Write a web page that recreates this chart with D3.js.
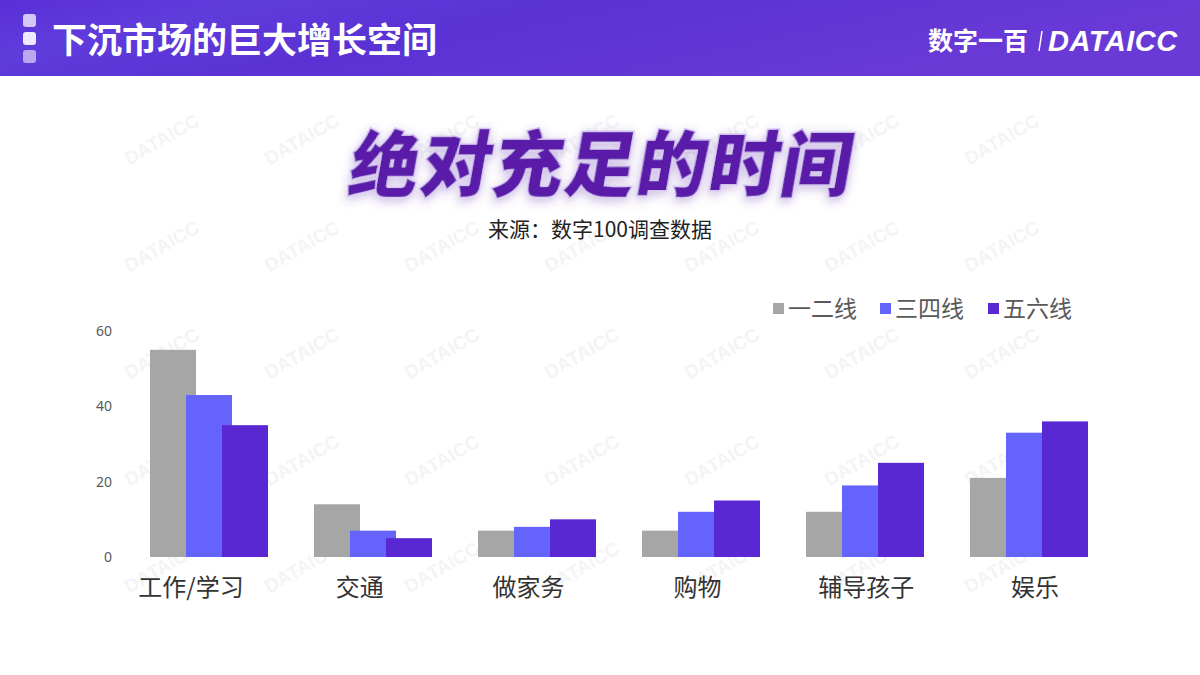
<!DOCTYPE html>
<html><head><meta charset="utf-8">
<script src="https://cdn.jsdelivr.net/npm/d3@7"></script>
<style>
html,body{margin:0;padding:0;background:#fff;}
svg{display:block;font-family:"Noto Sans CJK SC","Noto Sans",sans-serif;}
</style></head>
<body>
<svg id="chart" width="1200" height="675"></svg>
<script>
const categories = ["工作/学习","交通","做家务","购物","辅导孩子","娱乐"];
const seriesNames = ["一二线","三四线","五六线"];
const tier12 = [55, 14, 7, 7, 12, 21];
const tier34 = [43, 7, 8, 12, 19, 33];
const tier56 = [35, 5, 10, 15, 25, 36];
const yTicks = [0, 20, 40, 60];
const colors = ["#a6a6a6", "#6464fc", "#5a28d2"];

const svg = d3.select("#chart");
const defs = svg.append("defs");

// header gradient
const hg = defs.append("linearGradient").attr("id","hg").attr("x1","0").attr("y1","0").attr("x2","1").attr("y2","0.3");
hg.append("stop").attr("offset","0").attr("stop-color","#5a2fd6");
hg.append("stop").attr("offset","0.2").attr("stop-color","#5f3cdc");
hg.append("stop").attr("offset","0.45").attr("stop-color","#5a32d4");
hg.append("stop").attr("offset","1").attr("stop-color","#6a3ad6");
svg.append("rect").attr("x",0).attr("y",0).attr("width",1200).attr("height",76).attr("fill","url(#hg)");

// faint watermark
const wm = svg.append("g").attr("fill","#f4f4f6").attr("font-size",19).attr("font-weight",700).attr("font-family","Liberation Sans, sans-serif");
for (let r = 0; r < 5; r++) {
  for (let c = 1; c < 8; c++) {
    const x = c * 140 + 25;
    const y = 145 + r * 107;
    wm.append("text").attr("transform", `translate(${x},${y}) rotate(-30)`).attr("text-anchor","middle").text("DATAICC");
  }
}

// header icon
const iconCols = ["#d2c8f5","#efeaff","#b9a8f0"];
[14, 32, 50].forEach((y,i) => {
  svg.append("rect").attr("x",23).attr("y",y).attr("width",13).attr("height",13).attr("rx",3).attr("fill",iconCols[i]);
});
svg.append("text").attr("x",52).attr("y",53).attr("fill","#fff").attr("font-size",35).attr("font-weight",700)
  .text("下沉市场的巨大增长空间");

// logo
svg.append("text").attr("x",928).attr("y",50).attr("fill","#fff").attr("font-size",25).attr("font-weight",700).text("数字一百");
svg.append("line").attr("x1",1042).attr("x2",1039).attr("y1",31).attr("y2",51).attr("stroke","#fff").attr("stroke-width",1.5);
svg.append("text").attr("x",1048).attr("y",51).attr("fill","#fff").attr("font-size",29).attr("font-style","italic").attr("font-weight",700)
  .attr("font-family","Liberation Sans, sans-serif").attr("letter-spacing",0.5).text("DATAICC");

// big title
const tf = defs.append("filter").attr("id","shadow").attr("x","-10%").attr("y","-30%").attr("width","120%").attr("height","160%");
tf.append("feDropShadow").attr("dx",0).attr("dy",3).attr("stdDeviation",5).attr("flood-color","#6a3ab0").attr("flood-opacity",0.35);
const tg = svg.append("g").attr("transform","translate(598,190) skewX(-10)");
tg.append("text").attr("text-anchor","middle").attr("font-size",70).attr("font-weight",900)
  .attr("fill","#5a1fa8").attr("stroke","#d7c8f2").attr("stroke-width",3).attr("paint-order","stroke")
  .attr("letter-spacing",2).attr("filter","url(#shadow)").text("绝对充足的时间");
svg.append("text").attr("x",600).attr("y",237).attr("text-anchor","middle").attr("font-size",21).attr("fill","#222")
  .text("来源：数字100调查数据");

// chart
const y = d3.scaleLinear().domain([0, 60]).range([557, 331]);
const x0 = d3.scaleBand().domain(categories).range([127, 1111]).paddingInner(0).paddingOuter(0);
const xLabel = d3.scaleBand().domain(categories).range([106.6, 1119.4]);
const barW = 46, barStep = 36;
const series = [tier12, tier34, tier56];

const yAxis = d3.axisLeft(y).tickValues(yTicks).tickSize(0).tickPadding(0);
const ya = svg.append("g").attr("transform","translate(112,0)").call(yAxis);
ya.select(".domain").remove();
ya.selectAll("text").attr("font-size",14).attr("fill","#595959").attr("font-family","Noto Sans, sans-serif");

const xAxis = d3.axisBottom(xLabel).tickSize(0).tickPadding(14);
const xa = svg.append("g").attr("transform","translate(0,565)").call(xAxis);
xa.select(".domain").remove();
xa.selectAll("text").attr("font-size",24).attr("fill","#333").attr("font-family","Noto Sans CJK SC, sans-serif");

const gBars = svg.append("g");
series.forEach((vals, si) => {
  gBars.append("g").selectAll("rect").data(categories.map((c,i)=>({c, v: vals[i]}))).join("rect")
    .attr("x", d => x0(d.c) + x0.bandwidth()/2 - (barW + 2*barStep)/2 + si*barStep)
    .attr("y", d => y(d.v))
    .attr("width", barW)
    .attr("height", d => y(0) - y(d.v))
    .attr("fill", colors[si]);
});

// legend
const legX = [773, 880, 988];
const lg = svg.append("g");
seriesNames.forEach((n,i) => {
  lg.append("rect").attr("x",legX[i]).attr("y",303).attr("width",11).attr("height",11).attr("fill",colors[i]);
  lg.append("text").attr("x",legX[i]+15).attr("y",317).attr("font-size",23).attr("fill","#595959").text(n);
});
</script>
</body></html>
